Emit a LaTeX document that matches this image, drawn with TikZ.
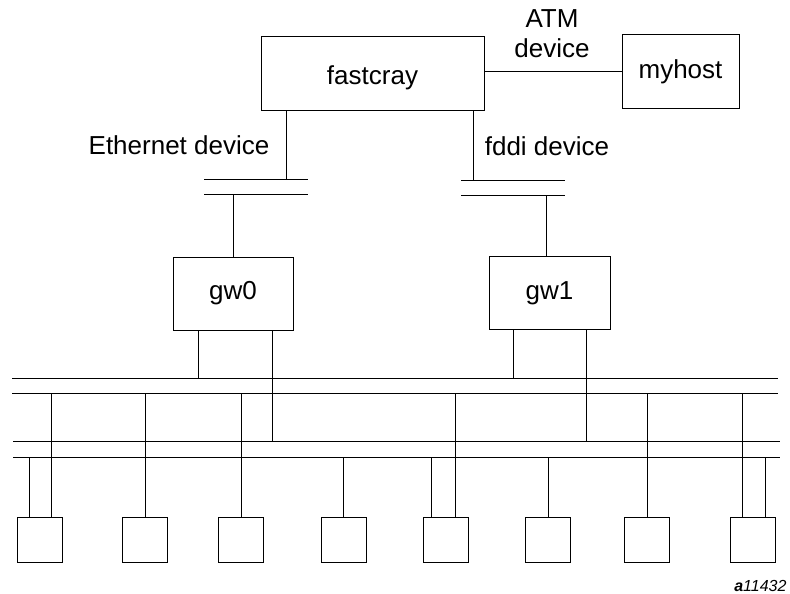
\documentclass[tikz,border=0pt]{standalone}
\usepackage{fontspec}
\setmainfont{Liberation Sans}

\begin{document}
\begin{tikzpicture}[x=1pt,y=-1pt,line width=1pt,
    font=\fontsize{26}{30}\selectfont,
    box/.style={draw, minimum width=#1, minimum height=73pt, inner sep=0pt},
    host/.style={draw, minimum width=45pt, minimum height=45pt, inner sep=0pt}]
  \useasboundingbox (0,0) rectangle (790,594);
  % machines
  \node[box=223pt, text height=22pt, text depth=0pt] (fastcray) at (372.5,73.5) {fastcray};
  \node[box=117pt] (myhost) at (680.5,71.5) {myhost};
  \node[box=120pt] (gw0) at (233,293.5) {gw0};
  \node[box=121pt] (gw1) at (549.5,293) {gw1};
  \foreach \n/\x in {1/39.5,2/144.5,3/240.5,4/343.5,5/446,6/548,7/646.5,8/752.5}
    \node[host] (h\n) at (\x,539.5) {};

  % labels
  \node[align=center, inner sep=0pt] (atm) at (552,34) {ATM\\device};
  \node (eth) at (179,145) {Ethernet device};
  \node (fddi) at (547,146) {fddi device};
  \node[anchor=east, inner sep=0pt, font=\fontsize{16}{19}\selectfont\itshape] (fig) at (787,586) {\textbf{a}11432};

  % ATM link
  \draw (fastcray.east |- myhost.west) -- (myhost.west);

  % ethernet and fddi taps
  \coordinate (eth1) at (286,179);
  \coordinate (eth2) at (233,194);
  \coordinate (fd1) at (473,180);
  \coordinate (fd2) at (546,195);
  \draw (204,179) -- (308,179);
  \draw (204,194) -- (308,194);
  \draw (461,180) -- (565,180);
  \draw (461,195) -- (565,195);
  \draw (fastcray.south -| eth1) -- (eth1);
  \draw (eth2) -- (gw0.north);
  \draw (fastcray.south -| fd1) -- (fd1);
  \draw (fd2) -- (gw1.north -| fd2);

  % the two buses
  \coordinate (busA) at (0,378);
  \coordinate (busB) at (0,393);
  \coordinate (busC) at (0,441);
  \coordinate (busD) at (0,457);
  \draw (12,378) -- (778,378);
  \draw (12,393) -- (778,393);
  \draw (13,441) -- (780,441);
  \draw (13,457) -- (780,457);

  % gateways onto the buses
  \draw (198,0 |- gw0.south) -- (198,0 |- busA);
  \draw (272,0 |- gw0.south) -- (272,0 |- busC);
  \draw (513,0 |- gw1.south) -- (513,0 |- busA);
  \draw (586,0 |- gw1.south) -- (586,0 |- busC);

  % hosts onto the buses
  \foreach \n/\x in {1/51,2/145,3/241,5/455,7/647,8/742}
    \draw (\x,0 |- busB) -- (\x,0 |- h\n.north);
  \foreach \n/\x in {1/29,4/343,5/431,6/548,8/765}
    \draw (\x,0 |- busD) -- (\x,0 |- h\n.north);
\end{tikzpicture}
\end{document}
